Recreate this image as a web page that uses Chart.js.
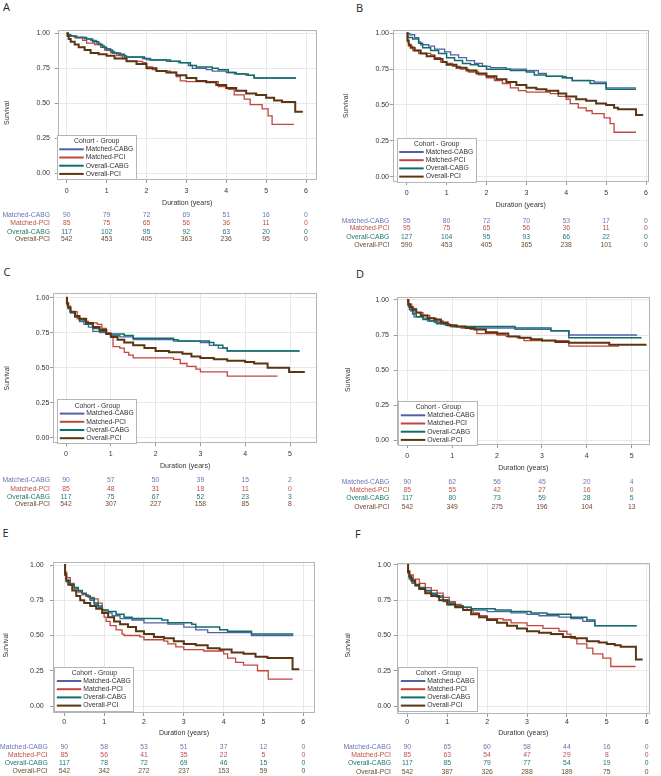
<!DOCTYPE html>
<html>
<head>
<meta charset="utf-8">
<script src="https://cdn.jsdelivr.net/npm/chart.js@4.4.1/dist/chart.umd.min.js"></script>
<style>
  body { margin: 0; background: #fff; width: 661px; height: 776px; position: relative; overflow: hidden; }
  canvas { position: absolute; }
  .letter { position: absolute; font-family: "Open Sans", sans-serif; font-size: 11px; line-height: 11px; color: #222; }
</style>
</head>
<body>
<div class="letter" style="left:3px;top:1px">A</div>
<div class="letter" style="left:356px;top:1.5px">B</div>
<div class="letter" style="left:3.5px;top:265.5px">C</div>
<div class="letter" style="left:356px;top:268px">D</div>
<div class="letter" style="left:2.5px;top:527px">E</div>
<div class="letter" style="left:355px;top:528px">F</div>

<canvas id="cA" width="330" height="260" style="left:0;top:0"></canvas>
<canvas id="cB" width="331" height="260" style="left:330px;top:0"></canvas>
<canvas id="cC" width="330" height="255" style="left:0;top:260px"></canvas>
<canvas id="cD" width="331" height="255" style="left:330px;top:260px"></canvas>
<canvas id="cE" width="330" height="261" style="left:0;top:515px"></canvas>
<canvas id="cF" width="331" height="261" style="left:330px;top:515px"></canvas>

<script>
// groups, colours, ticks
const groupNames = ['Matched-CABG', 'Matched-PCI', 'Overall-CABG', 'Overall-PCI'];
const lineColors = ['#4f62a8', '#c2463c', '#0f6f68', '#5a3512'];
const textColors = ['#6a75b5', '#bd4f47', '#1f7a70', '#6e4b2b'];
const lineWidths = [1.3, 1.3, 1.5, 2];
const yTicks = [0, 0.25, 0.5, 0.75, 1];
const xTicks6 = [0, 1, 2, 3, 4, 5, 6];
const xTicks5 = [0, 1, 2, 3, 4, 5];

// survival curves, [years, survival]
// A
const aMatchedCabg = [[0,1],[0.03,0.99],[0.08,0.98],[0.2,0.97],[0.45,0.96],[0.6,0.95],[0.75,0.93],[0.85,0.91],[0.95,0.89],[1.1,0.87],[1.2,0.86],[1.35,0.84],[1.5,0.83],[1.9,0.82],[2.0,0.81],[2.5,0.80],[2.8,0.79],[3.05,0.77],[3.15,0.75],[3.5,0.74],[3.65,0.73],[4.0,0.72],[4.2,0.71],[4.5,0.70],[4.7,0.68],[5.75,0.68]];
const aMatchedPci = [[0,1],[0.05,0.98],[0.2,0.97],[0.4,0.95],[0.5,0.93],[0.7,0.92],[0.85,0.90],[0.95,0.88],[1.1,0.86],[1.25,0.84],[1.4,0.82],[1.5,0.80],[1.9,0.79],[2.0,0.76],[2.15,0.74],[2.25,0.73],[2.6,0.72],[2.75,0.69],[2.85,0.66],[3.0,0.655],[3.8,0.62],[4.0,0.61],[4.05,0.60],[4.2,0.56],[4.45,0.53],[4.6,0.49],[4.9,0.46],[5.05,0.41],[5.15,0.35],[5.7,0.35]];
const aOverallCabg = [[0,1],[0.03,0.99],[0.1,0.98],[0.25,0.97],[0.5,0.96],[0.65,0.94],[0.8,0.92],[0.9,0.90],[1.0,0.88],[1.15,0.86],[1.3,0.85],[1.45,0.83],[1.95,0.82],[2.1,0.81],[2.6,0.80],[2.85,0.79],[3.1,0.77],[3.25,0.76],[3.65,0.75],[3.8,0.74],[4.05,0.72],[4.25,0.71],[4.55,0.70],[4.7,0.68],[5.75,0.68]];
const aOverallPci = [[0,1],[0.02,0.98],[0.05,0.96],[0.1,0.94],[0.2,0.92],[0.3,0.90],[0.45,0.88],[0.6,0.86],[0.8,0.85],[1.0,0.84],[1.2,0.82],[1.5,0.80],[1.75,0.78],[2.0,0.75],[2.25,0.73],[2.5,0.72],[2.75,0.70],[3.0,0.68],[3.25,0.66],[3.5,0.65],[3.75,0.63],[4.0,0.61],[4.25,0.59],[4.5,0.57],[4.75,0.56],[5.0,0.54],[5.2,0.52],[5.4,0.51],[5.73,0.44],[5.92,0.44]];
// B
const bMatchedCabg = [[0,1],[0.08,0.99],[0.2,0.97],[0.3,0.94],[0.35,0.92],[0.55,0.91],[0.7,0.89],[0.95,0.87],[1.1,0.85],[1.3,0.83],[1.5,0.81],[1.7,0.79],[1.9,0.77],[2.1,0.76],[2.5,0.75],[3.0,0.74],[3.3,0.72],[3.5,0.70],[4.0,0.69],[4.15,0.67],[4.7,0.66],[5.0,0.62],[5.75,0.62]];
const bMatchedPci = [[0,1],[0.02,0.94],[0.05,0.91],[0.15,0.88],[0.3,0.86],[0.6,0.85],[0.7,0.83],[0.85,0.80],[1.0,0.79],[1.15,0.77],[1.35,0.75],[1.55,0.73],[1.8,0.71],[2.0,0.69],[2.2,0.67],[2.4,0.65],[2.6,0.62],[2.8,0.60],[3.0,0.59],[3.6,0.58],[3.8,0.56],[4.0,0.54],[4.1,0.51],[4.3,0.48],[4.5,0.46],[4.65,0.44],[4.95,0.41],[5.1,0.37],[5.2,0.31],[5.75,0.31]];
const bOverallCabg = [[0,1],[0.03,0.97],[0.15,0.96],[0.3,0.93],[0.4,0.90],[0.6,0.88],[0.8,0.86],[1.0,0.83],[1.2,0.81],[1.4,0.79],[1.6,0.78],[1.8,0.77],[2.0,0.75],[2.6,0.74],[3.0,0.73],[3.2,0.71],[3.5,0.70],[3.9,0.69],[4.15,0.67],[4.6,0.65],[5.0,0.61],[5.75,0.61]];
const bOverallPci = [[0,1],[0.02,0.95],[0.05,0.92],[0.1,0.90],[0.2,0.88],[0.35,0.86],[0.5,0.84],[0.7,0.82],[0.9,0.80],[1.0,0.78],[1.25,0.76],[1.5,0.74],[1.75,0.72],[2.0,0.70],[2.25,0.68],[2.5,0.66],[2.75,0.64],[3.0,0.62],[3.25,0.61],[3.5,0.60],[3.8,0.58],[4.0,0.56],[4.25,0.54],[4.5,0.53],[4.75,0.51],[5.0,0.50],[5.2,0.48],[5.3,0.47],[5.75,0.43],[5.93,0.43]];
// C
const cMatchedCabg = [[0,1],[0.02,0.95],[0.05,0.92],[0.1,0.89],[0.2,0.86],[0.3,0.83],[0.4,0.81],[0.5,0.79],[0.6,0.76],[0.75,0.75],[0.9,0.74],[1.0,0.73],[1.2,0.72],[1.5,0.70],[2.4,0.69],[3.0,0.68],[3.2,0.66],[3.4,0.64],[3.6,0.62],[5.2,0.62]];
const cMatchedPci = [[0,1],[0.03,0.94],[0.1,0.90],[0.25,0.85],[0.4,0.83],[0.5,0.82],[0.7,0.81],[0.8,0.78],[0.9,0.75],[1.0,0.72],[1.05,0.65],[1.2,0.64],[1.3,0.61],[1.4,0.59],[1.5,0.57],[2.4,0.56],[2.55,0.53],[2.7,0.51],[2.9,0.49],[3.0,0.47],[3.6,0.44],[4.72,0.44]];
const cOverallCabg = [[0,1],[0.02,0.96],[0.05,0.93],[0.1,0.90],[0.2,0.87],[0.3,0.84],[0.45,0.81],[0.6,0.78],[0.75,0.76],[0.9,0.74],[1.2,0.74],[1.3,0.73],[1.5,0.71],[2.4,0.70],[2.5,0.69],[3.2,0.68],[3.3,0.66],[3.5,0.64],[3.6,0.62],[5.22,0.62]];
const cOverallPci = [[0,1],[0.02,0.96],[0.05,0.93],[0.1,0.90],[0.2,0.87],[0.3,0.85],[0.45,0.82],[0.6,0.79],[0.75,0.77],[0.9,0.74],[1.0,0.72],[1.15,0.70],[1.3,0.68],[1.5,0.66],[1.75,0.64],[2.0,0.62],[2.3,0.61],[2.6,0.60],[2.8,0.58],[3.0,0.57],[3.3,0.56],[3.6,0.55],[4.0,0.54],[4.2,0.53],[4.5,0.50],[4.98,0.47],[5.33,0.47]];
// D
const dMatchedCabg = [[0,1],[0.03,0.95],[0.08,0.92],[0.15,0.88],[0.35,0.87],[0.45,0.85],[0.6,0.84],[0.75,0.83],[0.9,0.82],[1.0,0.81],[1.5,0.80],[2.4,0.79],[3.2,0.78],[3.6,0.75],[5.12,0.75]];
const dMatchedPci = [[0,1],[0.03,0.97],[0.1,0.94],[0.2,0.91],[0.35,0.89],[0.5,0.87],[0.65,0.85],[0.8,0.83],[0.95,0.81],[1.2,0.80],[1.4,0.79],[1.55,0.76],[2.0,0.75],[2.2,0.74],[2.45,0.73],[2.6,0.71],[3.6,0.67],[4.72,0.67]];
const dOverallCabg = [[0,1],[0.02,0.96],[0.05,0.93],[0.12,0.90],[0.2,0.88],[0.35,0.86],[0.5,0.85],[0.65,0.83],[0.85,0.82],[1.0,0.81],[1.6,0.81],[2.4,0.80],[3.2,0.78],[3.6,0.73],[5.22,0.73]];
const dOverallPci = [[0,1],[0.02,0.97],[0.06,0.95],[0.12,0.93],[0.2,0.91],[0.3,0.89],[0.45,0.87],[0.6,0.86],[0.75,0.84],[0.9,0.82],[1.1,0.81],[1.3,0.80],[1.5,0.79],[1.75,0.77],[2.0,0.76],[2.25,0.74],[2.5,0.73],[2.75,0.72],[3.0,0.71],[3.3,0.70],[3.6,0.695],[4.5,0.68],[5.33,0.68]];
// E
const eMatchedCabg = [[0,1],[0.02,0.93],[0.05,0.88],[0.15,0.86],[0.25,0.83],[0.35,0.81],[0.45,0.79],[0.55,0.78],[0.65,0.75],[0.75,0.72],[0.85,0.70],[0.95,0.68],[1.05,0.66],[1.2,0.64],[1.4,0.62],[1.7,0.61],[2.0,0.59],[2.6,0.58],[3.0,0.56],[3.3,0.54],[3.6,0.52],[4.7,0.50],[5.75,0.50]];
const eMatchedPci = [[0,1],[0.02,0.95],[0.06,0.91],[0.15,0.87],[0.25,0.84],[0.35,0.81],[0.45,0.79],[0.6,0.77],[0.75,0.76],[0.85,0.73],[0.95,0.68],[1.0,0.63],[1.05,0.60],[1.15,0.57],[1.3,0.54],[1.45,0.51],[1.5,0.50],[1.9,0.49],[2.0,0.47],[2.5,0.46],[2.6,0.44],[2.8,0.42],[3.0,0.40],[3.5,0.39],[4.0,0.37],[4.1,0.34],[4.3,0.31],[4.5,0.29],[4.85,0.25],[5.12,0.19],[5.73,0.19]];
const eOverallCabg = [[0,1],[0.02,0.94],[0.05,0.89],[0.15,0.86],[0.25,0.84],[0.35,0.82],[0.45,0.80],[0.55,0.78],[0.65,0.76],[0.75,0.73],[0.85,0.71],[0.95,0.68],[1.1,0.67],[1.3,0.65],[1.5,0.63],[1.7,0.62],[2.45,0.61],[2.6,0.59],[3.2,0.58],[3.3,0.56],[3.9,0.54],[4.1,0.53],[4.7,0.51],[5.75,0.51]];
const eOverallPci = [[0,1],[0.02,0.93],[0.05,0.89],[0.1,0.86],[0.2,0.82],[0.3,0.78],[0.4,0.75],[0.5,0.73],[0.65,0.71],[0.8,0.69],[0.95,0.66],[1.1,0.63],[1.25,0.60],[1.4,0.58],[1.6,0.56],[1.8,0.53],[2.0,0.51],[2.25,0.49],[2.5,0.48],[2.75,0.46],[3.0,0.44],[3.3,0.43],[3.6,0.41],[3.9,0.40],[4.2,0.38],[4.5,0.37],[4.8,0.35],[5.1,0.34],[5.73,0.26],[5.9,0.26]];
// F
const fMatchedCabg = [[0,1],[0.02,0.94],[0.05,0.90],[0.12,0.87],[0.2,0.85],[0.3,0.83],[0.45,0.81],[0.6,0.79],[0.75,0.77],[0.9,0.74],[1.05,0.72],[1.2,0.71],[1.4,0.70],[1.6,0.68],[2.0,0.67],[2.6,0.66],[3.0,0.65],[3.3,0.64],[3.8,0.63],[4.1,0.62],[4.4,0.60],[4.7,0.57],[5.75,0.57]];
const fMatchedPci = [[0,1],[0.02,0.96],[0.06,0.93],[0.15,0.90],[0.3,0.87],[0.45,0.84],[0.6,0.82],[0.75,0.80],[0.9,0.77],[1.05,0.74],[1.2,0.72],[1.35,0.70],[1.5,0.68],[1.65,0.66],[1.8,0.64],[2.0,0.62],[2.4,0.61],[2.6,0.59],[3.0,0.57],[3.4,0.55],[3.8,0.53],[4.0,0.51],[4.1,0.48],[4.25,0.44],[4.5,0.41],[4.65,0.37],[4.9,0.34],[5.1,0.28],[5.72,0.28]];
const fOverallCabg = [[0,1],[0.02,0.95],[0.05,0.91],[0.12,0.88],[0.2,0.86],[0.3,0.84],[0.45,0.82],[0.6,0.80],[0.75,0.78],[0.9,0.75],[1.05,0.73],[1.2,0.71],[1.4,0.70],[1.6,0.69],[2.2,0.68],[2.6,0.67],[3.1,0.66],[3.5,0.65],[4.1,0.63],[4.5,0.61],[4.7,0.57],[5.75,0.57]];
const fOverallPci = [[0,1],[0.02,0.95],[0.05,0.92],[0.1,0.89],[0.2,0.86],[0.3,0.83],[0.45,0.80],[0.6,0.78],[0.8,0.75],[1.0,0.72],[1.2,0.70],[1.4,0.68],[1.6,0.65],[1.8,0.63],[2.0,0.61],[2.25,0.59],[2.5,0.57],[2.75,0.55],[3.0,0.53],[3.3,0.52],[3.6,0.51],[3.9,0.49],[4.2,0.48],[4.5,0.46],[4.8,0.45],[5.0,0.44],[5.2,0.43],[5.35,0.42],[5.73,0.33],[5.9,0.33]];

// numbers at risk
const riskA = [[90,79,72,69,51,16,0],[85,75,65,56,36,11,0],[117,102,95,92,63,20,0],[542,453,405,363,236,95,0]];
const riskB = [[95,80,72,70,53,17,0],[95,75,65,56,36,11,0],[127,104,95,93,66,22,0],[590,453,405,365,238,101,0]];
const riskC = [[90,57,50,39,15,2],[85,48,31,18,11,0],[117,75,67,52,23,3],[542,307,227,158,85,8]];
const riskD = [[90,62,56,45,20,4],[85,55,42,27,16,0],[117,80,73,59,28,5],[542,349,275,196,104,13]];
const riskE = [[90,58,53,51,37,12,0],[85,56,41,35,22,5,0],[117,78,72,69,46,15,0],[542,342,272,237,153,59,0]];
const riskF = [[90,65,60,58,44,16,0],[85,63,54,47,29,8,0],[117,85,79,77,54,19,0],[542,387,326,288,189,75,0]];

const FONT = '"Liberation Sans", Arial, sans-serif';

// page layout of each panel (page pixels)
const panels = [
  {id:'cA', ox:0, oy:0, box:[57.7,30,316.7,180], xt:[66.7,306], yt:[33.3,173.3], ticks:xTicks6, yPad:4.7, labelDy:11, titleDy:23, survX:7, survDy:8, rows:[215,223.3,231.7,239.3], labelRight:50, legend:[56.7,135], series:[aMatchedCabg,aMatchedPci,aOverallCabg,aOverallPci], risk:riskA},
  {id:'cB', ox:330, oy:0, box:[392.7,30,649,182], xt:[406.7,646], yt:[33.3,176.7], ticks:xTicks6, yPad:0.7, labelDy:11.5, titleDy:23.5, survX:346, survDy:0, rows:[220.7,228.3,236.7,245], labelRight:389.3, legend:[396.7,137.7], series:[bMatchedCabg,bMatchedPci,bOverallCabg,bOverallPci], risk:riskB},
  {id:'cC', ox:0, oy:260, box:[53,293.3,317.3,443.3], xt:[66,290], yt:[297.7,437.7], ticks:xTicks5, yPad:0.7, labelDy:11, titleDy:23, survX:7.3, survDy:10, rows:[480,488.7,496.7,504.3], labelRight:50, legend:[57.3,399.3], series:[cMatchedCabg,cMatchedPci,cOverallCabg,cOverallPci], risk:riskC},
  {id:'cD', ox:330, oy:260, box:[396.7,296.7,650,445], xt:[407.3,631.7], yt:[300,440], ticks:xTicks5, yPad:4.7, labelDy:11, titleDy:23, survX:348, survDy:9, rows:[481.7,490,498.3,506.7], labelRight:389.3, legend:[398.3,401], series:[dMatchedCabg,dMatchedPci,dOverallCabg,dOverallPci], risk:riskD},
  {id:'cE', ox:0, oy:515, box:[53,561.7,315,713], xt:[64.3,303.3], yt:[565,706], ticks:xTicks6, yPad:6.3, labelDy:9, titleDy:20, survX:6, survDy:8, rows:[747.3,755,763.3,771], labelRight:47.7, legend:[54.3,666.7], series:[eMatchedCabg,eMatchedPci,eOverallCabg,eOverallPci], risk:riskE},
  {id:'cF', ox:330, oy:515, box:[396.7,562.7,650,714], xt:[407.3,646.7], yt:[565,706], ticks:xTicks6, yPad:2.7, labelDy:8, titleDy:19.5, survX:348, survDy:7, rows:[747.3,755,763.3,771.7], labelRight:391, legend:[398.3,666.7], series:[fMatchedCabg,fMatchedPci,fOverallCabg,fOverallPci], risk:riskF}
];

function extrasPlugin(p) {
  return {
    id: 'kmExtras',
    afterDraw(chart) {
      const {ctx, chartArea: a, scales: {x}} = chart;
      ctx.save();
      // plot frame
      ctx.strokeStyle = '#b5b5b5';
      ctx.lineWidth = 1;
      ctx.strokeRect(Math.round(a.left) + 0.5, Math.round(a.top) + 0.5, Math.round(a.width) - 1, Math.round(a.height) - 1);

      // y title
      ctx.save();
      ctx.fillStyle = '#333';
      ctx.font = '6.8px ' + FONT;
      ctx.translate(p.survX - p.ox, (a.top + a.bottom) / 2 + p.survDy);
      ctx.rotate(-Math.PI / 2);
      ctx.textAlign = 'center';
      ctx.textBaseline = 'middle';
      ctx.fillText('Survival', 0, 0);
      ctx.restore();

      // legend inside plot
      const lx = p.legend[0] - p.ox, ly = p.legend[1] - p.oy;
      ctx.fillStyle = '#fff';
      ctx.fillRect(lx, ly, 79, 44.5);
      ctx.strokeStyle = '#b5b5b5';
      ctx.strokeRect(Math.round(lx) + 0.5, Math.round(ly) + 0.5, 79, 44);
      ctx.font = '6.8px ' + FONT;
      ctx.textBaseline = 'middle';
      ctx.fillStyle = '#333';
      ctx.textAlign = 'center';
      ctx.fillText('Cohort - Group', lx + 40, ly + 6.5);
      chart.data.datasets.forEach((ds, i) => {
        const yy = ly + 14.3 + i * 8.2;
        ctx.strokeStyle = ds.borderColor;
        ctx.lineWidth = 2;
        ctx.beginPath();
        ctx.moveTo(lx + 2.5, yy);
        ctx.lineTo(lx + 27, yy);
        ctx.stroke();
        ctx.fillStyle = '#333';
        ctx.textAlign = 'left';
        ctx.fillText(ds.label, lx + 29, yy);
      });

      // numbers at risk
      p.risk.forEach((row, i) => {
        const yy = p.rows[i] - p.oy;
        ctx.fillStyle = textColors[i];
        ctx.textAlign = 'right';
        ctx.fillText(groupNames[i], p.labelRight - p.ox, yy);
        ctx.textAlign = 'center';
        row.forEach((v, j) => ctx.fillText(String(v), x.getPixelForValue(p.ticks[j]), yy));
      });
      ctx.restore();
    }
  };
}

panels.forEach(p => {
  const canvas = document.getElementById(p.id);
  const H = canvas.height, W = canvas.width;
  const [bl, bt, br, bb] = p.box;
  const nMax = p.ticks[p.ticks.length - 1];
  const pxX = (p.xt[1] - p.xt[0]) / nMax;
  const xMin = -(p.xt[0] - bl) / pxX;
  const xMax = (br - p.xt[0]) / pxX;
  const pxY = p.yt[1] - p.yt[0];
  const yMax = 1 + (p.yt[0] - bt) / pxY;
  const yMin = -(bb - p.yt[1]) / pxY;
  const xAxisH = p.titleDy + 4.2;
  const yAxisW = bl - p.ox;

  new Chart(canvas, {
    type: 'line',
    data: {
      datasets: p.series.map((s, i) => ({
        label: groupNames[i],
        data: s.map(([t, v]) => ({x: t, y: v})),
        borderColor: lineColors[i],
        borderWidth: lineWidths[i],
        stepped: true,
        pointRadius: 0,
        fill: false,
        order: 4 - i
      }))
    },
    options: {
      responsive: false,
      animation: false,
      events: [],
      layout: {
        padding: {left: 0, top: bt - p.oy, right: p.ox + W - br, bottom: H - (bb - p.oy) - xAxisH}
      },
      plugins: {legend: {display: false}, tooltip: {enabled: false}},
      scales: {
        x: {
          type: 'linear',
          min: xMin, max: xMax,
          afterBuildTicks: s => { s.ticks = p.ticks.map(v => ({value: v})); },
          afterFit: s => { s.height = xAxisH; },
          grid: {color: '#e8e8e8', tickColor: '#9a9a9a', tickLength: 3},
          border: {display: false},
          ticks: {
            font: {family: FONT, size: 7},
            color: '#333',
            maxRotation: 0,
            autoSkip: false,
            padding: p.labelDy - 3 - 4.2,
            callback: v => String(v)
          },
          title: {display: true, text: 'Duration (years)', color: '#333', font: {family: FONT, size: 7}, padding: 0}
        },
        y: {
          type: 'linear',
          min: yMin, max: yMax,
          afterBuildTicks: s => { s.ticks = yTicks.map(v => ({value: v})); },
          afterFit: s => { s.width = yAxisW; },
          grid: {color: '#e8e8e8', tickColor: '#9a9a9a', tickLength: 3},
          border: {display: false},
          ticks: {
            font: {family: FONT, size: 7},
            color: '#333',
            padding: p.yPad,
            callback: v => Number(v).toFixed(2)
          }
        }
      }
    },
    plugins: [extrasPlugin(p)]
  });
});
</script>
</body>
</html>
